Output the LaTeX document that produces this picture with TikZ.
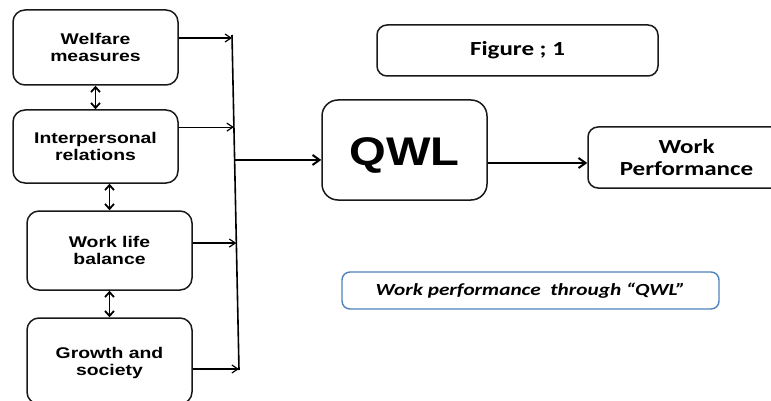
\documentclass[tikz,border=0pt]{standalone}
\usepackage{fontspec}
\usetikzlibrary{arrows.meta,calc}
\newfontfamily\arlfont[FakeStretch=1.25]{Liberation Sans}
\newfontfamily\qwlfont[FakeStretch=1.18]{Liberation Sans}
\newfontfamily\calfont[FakeStretch=1.25]{Carlito}
\definecolor{officeblue}{HTML}{4F81BD}
\begin{document}
\begin{tikzpicture}[x=1pt,y=-1pt,
  box/.style={draw=black!90,line width=1.5pt,rounded corners=12pt,inner sep=0pt,align=center},
  lab/.style={font=\arlfont\bfseries\fontsize{15.5}{16.5}\selectfont},
  arr/.style={line width=1.2pt,-{Straight Barb[length=6pt,width=8pt,line width=1.2pt]}},
  darr/.style={line width=1.8pt,{Straight Barb[length=5pt,width=9pt]}-{Straight Barb[length=5pt,width=9pt]}},
  bigarr/.style={line width=2pt,-{Straight Barb[length=7pt,width=10pt]}}]
\useasboundingbox (0,0) rectangle (771,401);
% left boxes
\node[box,lab,minimum width=165pt,minimum height=75pt] (wel) at (95.5,47.5) {Welfare\\measures};
\node[box,lab,minimum width=165pt,minimum height=73pt] (int) at (95.5,146.5) {Interpersonal\\relations};
\node[box,lab,minimum width=165pt,minimum height=79pt] (wlb) at (109.5,250.5) {Work life\\balance};
\node[box,lab,minimum width=165pt,minimum height=86pt] (gro) at (109.5,361) {};
\node[lab,align=center] (grot) at (109.5,363) {Growth and\\society};
% right boxes
\node[box,rounded corners=10pt,minimum width=281pt,minimum height=51pt,font=\calfont\bfseries\fontsize{20}{21}\selectfont] (fig) at (517.5,50.5) {Figure ; 1};
\node[box,rounded corners=16pt,minimum width=165pt,minimum height=100pt] (qwl) at (404.5,150) {};
\node[font=\qwlfont\bfseries\fontsize{40}{40}\selectfont] (qwlt) at (404.5,155) {QWL};
\node[box,rounded corners=10pt,minimum width=197pt,minimum height=61pt] (wp) at (686.5,157.5) {};
\node[font=\calfont\bfseries\fontsize{20}{22}\selectfont,align=center] (wpt) at (686.5,158) {Work\\Performance};
\node[draw=officeblue,line width=1.4pt,rounded corners=8pt,minimum width=377pt,minimum height=37pt,inner sep=0pt,font=\calfont\bfseries\itshape\fontsize{17}{18}\selectfont] (blue) at (530.5,290.5) {Work performance\ \ through “QWL”};
% bus line
\coordinate (bt) at (232,35);
\coordinate (bb) at (239,370);
\draw[line width=1.6pt] (bt) -- (bb);
\coordinate (p1) at ($(bt)!0.009!(bb)$);
\coordinate (p2) at ($(bt)!0.275!(bb)$);
\coordinate (p3) at ($(bt)!0.621!(bb)$);
\coordinate (p4) at ($(bt)!0.997!(bb)$);
\coordinate (pq) at ($(bt)!0.373!(bb)$);
\draw[arr] (p1 -| wel.east) -- (p1);
\draw[arr] (p2 -| int.east) -- (p2);
\draw[arr] (p3 -| wlb.east) -- (p3);
\draw[arr] (p4 -| gro.east) -- (p4);
% vertical double arrows
\draw[darr] (wel.south) -- (int.north);
\draw[darr] (wlb.north) -- (wlb.north |- int.south);
\draw[darr] (wlb.south) -- (gro.north);
% to QWL and out
\draw[bigarr] (pq) -- (pq -| qwl.west);
\coordinate (q2) at ($(qwl.east)+(0,13)$);
\draw[bigarr] (q2) -- (q2 -| wp.west);
\end{tikzpicture}
\end{document}
